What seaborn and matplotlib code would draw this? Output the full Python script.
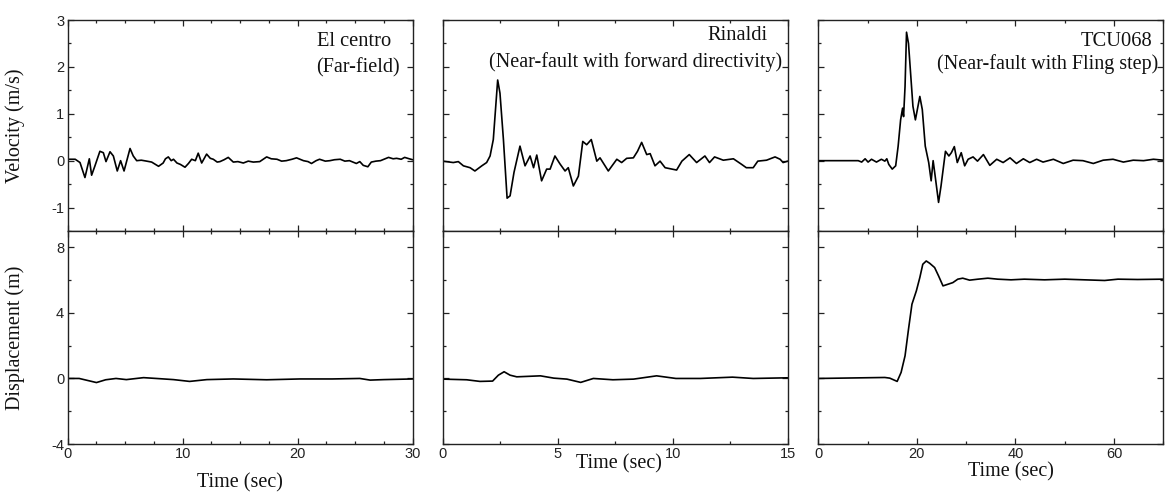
import numpy as np
import pandas as pd
import matplotlib
matplotlib.use("Agg")
import matplotlib.pyplot as plt
from matplotlib.ticker import MultipleLocator
import seaborn as sns

# ---------------- data ----------------
# El Centro (far-field)
elc_vel_t = [0, 0.65, 1.07, 1.5, 1.88, 2.08, 2.37, 2.8, 3.1, 3.33, 3.68, 3.97, 4.31, 4.6, 4.9,
             5.42, 5.7, 6.0, 6.4, 6.87, 7.3, 7.9, 8.3, 8.5, 8.75, 9.0, 9.2, 9.5, 9.8, 10.2, 10.5,
             10.78, 11.1, 11.35, 11.65, 12.08, 12.4, 12.66, 13.0, 13.24, 13.6, 13.96, 14.4, 14.8,
             15.27, 15.7, 16.14, 16.7, 17.3, 17.7, 18.2, 18.6, 19.0, 19.5, 19.9, 20.5, 20.9, 21.2,
             21.6, 21.9, 22.4, 22.8, 23.2, 23.7, 24.1, 24.5, 24.8, 25.1, 25.4, 25.7, 26.1, 26.4,
             26.8, 27.2, 27.9, 28.3, 28.6, 29.0, 29.3, 29.7, 30.0]
elc_vel_v = [0.03, 0.03, -0.04, -0.36, 0.04, -0.31, -0.11, 0.2, 0.17, -0.02, 0.19, 0.1, -0.22, 0.0, -0.22,
             0.26, 0.1, 0.0, 0.01, -0.01, -0.03, -0.12, -0.05, 0.04, 0.08, 0.0, 0.03, -0.05, -0.08, -0.14, -0.06,
             0.03, 0.0, 0.16, -0.05, 0.14, 0.05, 0.03, -0.03, -0.02, 0.02, 0.07, -0.03, -0.02,
             -0.05, -0.01, -0.03, -0.02, 0.08, 0.04, 0.03, -0.01, 0.0, 0.03, 0.06, 0.0, -0.02, -0.06,
             0.0, 0.03, -0.01, 0.0, 0.02, 0.03, -0.01, 0.0, -0.03, -0.06, -0.02, -0.1, -0.13, -0.03,
             -0.01, 0.0, 0.07, 0.04, 0.05, 0.03, 0.07, 0.04, 0.02]
elc_disp_t = [0, 1.0, 2.5, 3.3, 4.2, 5.1, 6.6, 7.7, 9.2, 10.6, 12.1, 14.4, 17.3, 20.2, 23.0, 25.4, 26.3, 27.5, 30.0]
elc_disp_d = [0.0, 0.0, -0.25, -0.08, 0.0, -0.07, 0.05, 0.0, -0.07, -0.18, -0.07, -0.03, -0.08, -0.03, -0.03, 0.0, -0.1, -0.07, -0.03]

# Rinaldi (near-fault, forward directivity)
rin_vel_t = [0, 0.46, 0.68, 0.9, 1.19, 1.4, 1.7, 1.91, 2.06, 2.2, 2.39, 2.49, 2.64, 2.8, 2.93, 3.1,
             3.36, 3.58, 3.8, 3.95, 4.09, 4.3, 4.52, 4.67, 4.88, 5.1, 5.32, 5.46, 5.68, 5.9, 6.09,
             6.26, 6.46, 6.7, 6.84, 7.2, 7.57, 7.78, 8.0, 8.29, 8.47, 8.65, 8.87, 9.02, 9.23, 9.45,
             9.67, 10.17, 10.4, 10.72, 11.04, 11.4, 11.6, 11.82, 12.2, 12.64, 13.0, 13.2, 13.5, 13.7,
             14.08, 14.45, 14.67, 14.8, 15.0]
rin_vel_v = [-0.01, -0.04, -0.02, -0.11, -0.15, -0.22, -0.11, -0.04, 0.1, 0.45, 1.72, 1.44, 0.45, -0.8, -0.75, -0.25,
             0.31, -0.11, 0.1, -0.15, 0.12, -0.43, -0.18, -0.18, 0.1, -0.07, -0.22, -0.15, -0.54, -0.33, 0.41,
             0.34, 0.45, -0.01, 0.06, -0.22, 0.03, -0.04, 0.05, 0.06, 0.2, 0.39, 0.13, 0.15, -0.11, -0.01,
             -0.15, -0.2, -0.01, 0.13, -0.04, 0.1, -0.04, 0.08, 0.01, 0.04, -0.08, -0.15, -0.15, -0.01,
             0.01, 0.08, 0.03, -0.04, -0.01]
rin_disp_t = [0, 1.04, 1.62, 2.17, 2.42, 2.67, 2.93, 3.22, 4.25, 4.83, 5.4, 6.0, 6.55, 7.4, 8.3, 9.3, 10.14, 11.2, 12.6, 13.5, 15.0]
rin_disp_d = [-0.04, -0.08, -0.18, -0.16, 0.2, 0.41, 0.2, 0.1, 0.16, 0.02, -0.04, -0.24, 0.0, -0.08, -0.04, 0.16, 0.0, 0.0, 0.08, 0.0, 0.04]

# TCU068 (near-fault, fling step)
tcu_vel_t = [0, 8.1, 8.8, 9.5, 10.1, 10.8, 11.8, 12.8, 13.5, 13.9, 14.3, 15.0, 15.7, 16.2, 16.7, 17.1,
             17.3, 17.6, 17.9, 18.3, 19.2, 19.7, 20.6, 21.1, 21.7, 22.4, 22.9, 23.3, 23.7, 24.4, 24.9,
             25.8, 26.5, 27.0, 27.6, 28.2, 29.0, 29.7, 30.4, 31.4, 32.3, 33.5, 34.8, 36.2, 37.5, 38.9,
             40.2, 41.6, 42.9, 44.3, 45.6, 47.7, 49.7, 51.7, 53.7, 55.8, 57.8, 59.8, 61.9, 63.9, 66.0,
             68.0, 70.0]
tcu_vel_v = [0.0, 0.0, -0.03, 0.04, -0.03, 0.03, -0.03, 0.03, -0.01, 0.04, -0.08, -0.18, -0.11, 0.31, 0.87, 1.12,
             0.94, 1.58, 2.74, 2.5, 1.16, 0.87, 1.37, 1.09, 0.31, -0.04, -0.43, 0.0, -0.32, -0.89, -0.54,
             0.2, 0.1, 0.17, 0.3, -0.04, 0.17, -0.11, 0.03, 0.08, -0.01, 0.13, -0.1, 0.03, -0.04, 0.06,
             -0.06, 0.04, -0.04, 0.03, -0.03, 0.03, -0.06, 0.01, 0.0, -0.06, 0.01, 0.03, -0.03, 0.01, 0.0,
             0.03, 0.01]
tcu_disp_t = [0, 13.5, 14.5, 16.0, 16.8, 17.6, 18.3, 19.0, 19.9, 20.6, 21.2, 21.9, 22.6, 23.6, 24.4, 25.3,
              26.3, 27.3, 28.3, 29.3, 30.7, 32.4, 34.4, 36.4, 39.1, 41.8, 45.9, 50.0, 54.0, 58.1, 60.8, 64.8, 70.0]
tcu_disp_d = [0.0, 0.06, 0.02, -0.18, 0.37, 1.38, 3.0, 4.53, 5.35, 6.16, 6.97, 7.17, 7.03, 6.77, 6.26, 5.65,
              5.75, 5.85, 6.06, 6.12, 6.0, 6.06, 6.12, 6.06, 6.02, 6.06, 6.02, 6.06, 6.02, 5.98, 6.06, 6.04, 6.06]

titles_line1 = ["El centro", "Rinaldi", "TCU068"]
titles_line2 = ["(Far-field)", "(Near-fault with forward directivity)", "(Near-fault with Fling step)"]
x_max = [30, 15, 70]
x_major = [10, 5, 20]
x_minor = [2.5, 2.5, 10]

# ---------------- figure ----------------
sns.set_style("ticks")
plt.rcParams["font.family"] = ["Liberation Sans", "DejaVu Sans"]
plt.rcParams["axes.linewidth"] = 1.0
plt.rcParams["axes.unicode_minus"] = False
serif = ["Liberation Serif", "DejaVu Serif"]

fig = plt.figure(figsize=(11.66, 4.92), dpi=100)
lefts = [67.7 / 1166, 442.7 / 1166, 818.3 / 1166]
w = 345 / 1166
top_rect = ((492 - 231) / 492, 211 / 492)
bot_rect = ((492 - 444) / 492, 213 / 492)

vel_sets = [(elc_vel_t, elc_vel_v), (rin_vel_t, rin_vel_v), (tcu_vel_t, tcu_vel_v)]
disp_sets = [(elc_disp_t, elc_disp_d), (rin_disp_t, rin_disp_d), (tcu_disp_t, tcu_disp_d)]

# title positions (axes fraction)
t1_pos = [(0.83, 0.9), (0.855, 0.925), (0.865, 0.9)]
t2_pos = [(0.84, 0.773), (0.56, 0.80), (0.666, 0.79)]
xl_pos = [(0.5, -0.183), (0.512, -0.095), (0.558, -0.13)]

def style_axis(ax, i, show_y):
    ax.set_xlim(0, x_max[i])
    ax.xaxis.set_major_locator(MultipleLocator(x_major[i]))
    ax.xaxis.set_minor_locator(MultipleLocator(x_minor[i]))
    ax.tick_params(which="both", direction="in", top=True, right=True, colors="#222222",
                   labelsize=10.5, width=0.9)
    ax.tick_params(which="major", length=4, pad=2.5)
    ax.tick_params(which="minor", length=2.5)
    if not show_y:
        ax.tick_params(labelleft=False)
    for s in ax.spines.values():
        s.set_color("#222222")
        s.set_visible(True)

for i in range(3):
    axt = fig.add_axes([lefts[i], top_rect[0], w, top_rect[1]])
    axb = fig.add_axes([lefts[i], bot_rect[0], w, bot_rect[1]])

    dv = pd.DataFrame({"t": vel_sets[i][0], "v": vel_sets[i][1]})
    dd = pd.DataFrame({"t": disp_sets[i][0], "d": disp_sets[i][1]})
    sns.lineplot(data=dv, x="t", y="v", ax=axt, color="black", lw=1.2, estimator=None, sort=False)
    sns.lineplot(data=dd, x="t", y="d", ax=axb, color="black", lw=1.2, estimator=None, sort=False)

    axt.set_ylim(-1.5, 3)
    axt.yaxis.set_major_locator(MultipleLocator(1))
    axt.yaxis.set_minor_locator(MultipleLocator(0.5))
    axb.set_ylim(-4, 9)
    axb.yaxis.set_major_locator(MultipleLocator(4))
    axb.yaxis.set_minor_locator(MultipleLocator(2))

    style_axis(axt, i, i == 0)
    style_axis(axb, i, i == 0)
    axt.tick_params(labelbottom=False)
    axt.set_xlabel("")
    axt.set_ylabel("")
    axb.set_ylabel("")

    axb.set_xlabel("Time (sec)", family=serif, fontsize=14.5, color="#111111")
    axb.xaxis.label.set_va("center")
    axb.xaxis.set_label_coords(*xl_pos[i])

    axt.text(*t1_pos[i], titles_line1[i], transform=axt.transAxes, ha="center", va="center",
             family=serif, fontsize=14.8, color="#111111")
    axt.text(*t2_pos[i], titles_line2[i], transform=axt.transAxes, ha="center", va="center",
             family=serif, fontsize=14.5, color="#111111")

    if i == 0:
        axt.set_ylabel("Velocity (m/s)", family=serif, fontsize=14.5, color="#111111")
        axt.yaxis.set_label_coords(-0.125, 0.5)
        axb.set_ylabel("Displacement (m)", family=serif, fontsize=14.5, color="#111111")
        axb.yaxis.set_label_coords(-0.125, 0.5)

fig.savefig("out.png", dpi=100)
